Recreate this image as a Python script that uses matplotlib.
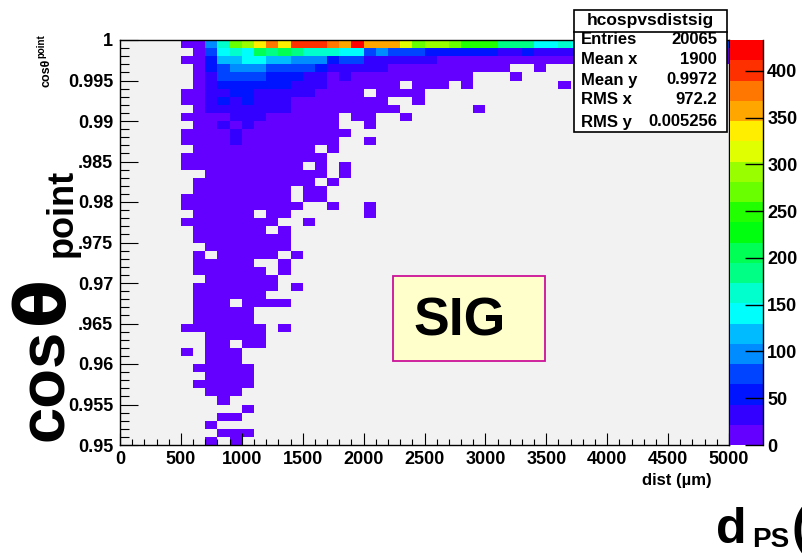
import numpy as np
import matplotlib
matplotlib.use("Agg")
import matplotlib.pyplot as plt
from matplotlib.colors import ListedColormap, Normalize
from matplotlib.patches import Rectangle
import colorsys

# ---------------- data ----------------
x_edges = np.arange(0, 5001, 100)          # dist (um), 50 bins
y_edges = np.linspace(0.95, 1.0, 51)       # cos(theta_point), 50 bins

# rows counted from the top (row 0 = 0.999..1.000): (row, first x-bin, counts)
cell_rows = [
    (0, 5, [8, 18, 98, 163, 270, 292, 336, 380, 336, 400, 405, 398, 378, 357, 433, 358, 360, 355,
            315, 270, 292, 290, 275, 250, 248, 245, 185, 183, 180, 140, 145, 160,
            150, 140, 135, 130, 120, 115, 110, 100, 95, 90, 85, 80, 75]),
    (1, 5, [0, 15, 75, 140, 160, 145, 205, 180, 210, 185, 165, 160, 165, 140, 145, 75, 95, 78,
            72, 70, 55, 50, 52, 48, 45, 46, 35, 32, 44, 30, 28, 25,
            25, 24, 22, 20, 20, 18, 17, 16, 15, 14, 12, 11, 10]),
    (2, 5, [12, 14, 50, 120, 115, 140, 135, 118, 112, 95, 100, 92, 50, 70, 72, 35, 40, 30,
            32, 28, 26, 18, 16, 17, 15, 14, 13, 12, 12, 11, 10, 10,
            9, 9, 8, 8, 7, 7, 6, 6, 5, 5, 5, 4, 4]),
    (3, 5, [0, 12, 48, 72, 95, 100, 92, 70, 75, 68, 66, 47, 30, 28, 26, 35, 25, 18,
            15, 14, 13, 12, 10, 9, 9, 8, 7, 0, 0, 4, 0, 0]),
    (4, 5, [0, 10, 30, 70, 72, 75, 70, 50, 48, 45, 30, 28, 18, 25, 17, 15, 14, 12,
            12, 10, 9, 8, 7, 6, 0, 0, 0, 3]),
    (5, 5, [0, 9, 28, 50, 52, 48, 46, 45, 44, 30, 28, 25, 18, 16, 14, 12, 10, 9,
            0, 8, 7, 6, 0, 4, 0, 0, 0, 0, 0, 0, 0, 2]),
    (6, 5, [6, 11, 27, 24, 46, 44, 35, 32, 30, 28, 25, 20, 18, 15, 13, 0, 9, 8, 7, 5]),
    (7, 5, [7, 10, 26, 44, 30, 45, 30, 28, 25, 20, 18, 16, 14, 12, 10, 8, 6, 0, 0, 3]),
    (8, 5, [0, 9, 25, 28, 30, 27, 26, 24, 23, 20, 17, 15, 13, 11, 9, 7, 5, 4,
            0, 0, 0, 0, 0, 0, 2]),
    (9, 5, [6, 8, 12, 18, 24, 26, 23, 20, 18, 15, 12, 9, 7, 0, 5, 4, 0, 0, 2]),
    (10, 5, [0, 8, 15, 23, 19, 24, 20, 18, 15, 12, 9, 6, 4, 0, 0, 3]),
    (11, 5, [5, 9, 14, 19, 23, 20, 19, 16, 13, 10, 8, 6, 4, 3]),
    (12, 5, [4, 8, 13, 18, 22, 20, 17, 15, 12, 9, 6, 4, 3, 0, 0, 2]),
    (13, 6, [7, 12, 16, 19, 18, 16, 13, 10, 7, 5, 0, 2]),
    (14, 5, [3, 7, 11, 15, 18, 17, 14, 12, 9, 6, 4, 2]),
    (15, 5, [3, 6, 10, 14, 17, 16, 13, 11, 8, 5, 0, 3, 0, 2]),
    (16, 7, [10, 13, 16, 15, 13, 10, 7, 5, 3, 2, 0, 1]),
    (17, 6, [5, 9, 13, 15, 14, 12, 9, 7, 4, 2, 0, 1]),
    (18, 6, [5, 9, 12, 14, 13, 11, 8, 6, 0, 3, 2]),
    (19, 5, [2, 5, 8, 12, 13, 12, 10, 8, 5, 0, 2, 1]),
    (20, 5, [2, 4, 8, 11, 12, 11, 9, 7, 4, 2, 0, 0, 1, 0, 0, 1]),
    (21, 6, [4, 7, 10, 11, 10, 0, 6, 3, 0, 0, 0, 0, 0, 0, 1]),
    (22, 5, [2, 4, 7, 10, 11, 9, 7, 4, 0, 0, 1]),
    (23, 6, [4, 7, 9, 10, 8, 6, 0, 2]),
    (24, 6, [3, 6, 9, 10, 8, 5, 3, 2]),
    (25, 7, [6, 8, 9, 8, 5, 3, 2]),
    (26, 6, [3, 0, 8, 9, 7, 5, 3, 0, 1]),
    (27, 6, [2, 5, 7, 8, 6, 0, 0, 1]),
    (28, 6, [2, 5, 7, 8, 6, 3, 0, 1]),
    (29, 7, [5, 6, 7, 5, 3, 2]),
    (30, 6, [2, 4, 6, 7, 5, 3, 2, 0, 1]),
    (31, 6, [2, 4, 6, 6, 4, 2]),
    (32, 6, [2, 4, 5, 0, 5, 3, 2, 1]),
    (33, 6, [2, 4, 5, 5, 3]),
    (34, 6, [1, 4, 5, 4, 3]),
    (35, 5, [1, 2, 3, 4, 4, 3, 1, 0, 1]),
    (36, 7, [3, 4, 4, 2, 1]),
    (37, 7, [3, 3, 0, 2, 1]),
    (38, 5, [1, 0, 2, 3, 2]),
    (39, 7, [2, 3, 2]),
    (40, 6, [1, 2, 3, 2, 1]),
    (41, 7, [2, 2, 2, 1]),
    (42, 6, [1, 2, 2, 2, 1]),
    (43, 7, [1, 2, 1]),
    (44, 8, [1]),
    (45, 10, [1]),
    (46, 8, [1, 1]),
    (47, 7, [1]),
    (48, 8, [1, 1, 1]),
    (49, 7, [1, 0, 1]),
]

z_ticks = [0, 50, 100, 150, 200, 250, 300, 350, 400]
x_ticks = [0, 500, 1000, 1500, 2000, 2500, 3000, 3500, 4000, 4500, 5000]
y_ticks = [0.95, 0.955, 0.96, 0.965, 0.97, 0.975, 0.98, 0.985, 0.99, 0.995, 1.0]
y_tick_labels = ["0.95", "0.955", "0.96", ".965", "0.97", ".975", "0.98", ".985", "0.99", "0.995", "1"]

stats_title = "hcospvsdistsig"
stats_names = ["Entries", "Mean x", "Mean y", "RMS x", "RMS y"]
stats_values = ["20065", "1900", "0.9972", "972.2", "0.005256"]

# ---------------- style ----------------
plt.rcParams["font.family"] = ["Liberation Sans", "DejaVu Sans"]
plt.rcParams["font.weight"] = "bold"

W, H = 802, 557
fig = plt.figure(figsize=(W / 100, H / 100), dpi=100)
fig.patch.set_facecolor("white")

def fx(px):
    return px / W

def fy(py):
    return 1 - py / H

# histogram grid
grid = np.zeros((len(y_edges) - 1, len(x_edges) - 1))
for r, c0, vals in cell_rows:
    grid[49 - r, c0:c0 + len(vals)] = vals
zmax = grid.max()
masked = np.ma.masked_where(grid <= 0, grid)

# ROOT "pretty" palette, 20 contour levels
ncont = 20
colors = []
for j in range(ncont):
    i = int((j + 0.99) * 50 / ncont)
    hue = 280 - (i + 1) * 280 / 50
    colors.append(colorsys.hls_to_rgb(hue / 360.0, 0.5, 1.0))
cmap = ListedColormap(colors)
norm = Normalize(vmin=0, vmax=zmax)

L, R, T, B = 120, 729, 40, 445
ax = fig.add_axes([fx(L), fy(B), (R - L) / W, (B - T) / H])
ax.set_facecolor("#f2f2f2")
mesh = ax.pcolormesh(x_edges, y_edges, masked, cmap=cmap, norm=norm,
                     edgecolors="none", antialiased=False)
ax.set_xlim(0, 5000)
ax.set_ylim(0.95, 1.0)
ax.set_xticks(x_ticks)
ax.set_xticks(np.arange(0, 5001, 100), minor=True)
ax.set_yticks(y_ticks)
ax.set_yticks(np.linspace(0.95, 1.0, 51), minor=True)
ax.set_yticklabels(y_tick_labels)
ax.tick_params(axis="x", which="major", direction="in", length=8.6, width=0.8,
               labelsize=13, pad=4, top=False)
ax.tick_params(axis="x", which="minor", direction="in", length=4.3, width=0.8, top=False)
ax.tick_params(axis="y", which="major", direction="in", length=13, width=0.8,
               labelsize=13, pad=5, right=False)
ax.tick_params(axis="y", which="minor", direction="in", length=6.5, width=0.8, right=False)
for s in ax.spines.values():
    s.set_linewidth(1.0)
    s.set_color("black")

# colour bar
cax = fig.add_axes([fx(730), fy(B), 33 / W, (B - T) / H])
cb = fig.colorbar(mesh, cax=cax, ticks=z_ticks)
cb.outline.set_visible(False)
cax.tick_params(direction="in", length=13, width=1.0, labelsize=13, pad=3,
                right=True, left=False)
cax.plot([1, 1], [0, 1], transform=cax.transAxes, color="black", lw=1.0, clip_on=False)

# axis titles
fig.text(fx(712), fy(480), "dist (\u00b5m)", ha="right", va="center", fontsize=12)
fig.text(fx(47), fy(87), "cos\u03b8", rotation=90, ha="center", va="bottom", fontsize=9)
fig.text(fx(41), fy(58), "point", rotation=90, ha="center", va="bottom", fontsize=7)
fig.text(fx(63), fy(441), "cos", rotation=90, rotation_mode="anchor", ha="left",
         va="baseline", fontsize=47)
fig.text(fx(63), fy(324), "\u03b8", rotation=90, rotation_mode="anchor", ha="left",
         va="baseline", fontsize=50, family="DejaVu Sans")
fig.text(fx(62), fy(257), "point", rotation=90, ha="center", va="bottom", fontsize=26)

# big x label at bottom right (clipped by figure edge, as in the original)
fig.text(fx(716), fy(530), "d", ha="left", va="center", fontsize=36)
fig.text(fx(752), fy(540), "PS", ha="left", va="center", fontsize=20)
fig.text(fx(791), fy(530), "(", ha="left", va="center", fontsize=36)

# SIG box
fig.add_artist(Rectangle((fx(393), fy(361)), 152 / W, 85 / H, transform=fig.transFigure,
                         facecolor="#ffffcc", edgecolor="#cc1199", lw=1.3))
fig.text(fx(413), fy(321), "SIG", ha="left", va="center", fontsize=38.5)

# stats box
bx0, bx1, by0, by1, byt = 574, 727, 10, 132, 32
fig.add_artist(Rectangle((fx(bx0), fy(by1)), (bx1 - bx0) / W, (by1 - by0) / H,
                         transform=fig.transFigure, facecolor="white", edgecolor="black", lw=1.2))
fig.add_artist(plt.Line2D([fx(bx0), fx(bx1)], [fy(byt), fy(byt)], transform=fig.transFigure,
                          color="black", lw=1.2))
fig.text(fx((bx0 + bx1) / 2), fy(20), stats_title, ha="center", va="center", fontsize=12.5)
row_y = [39, 60, 80, 100, 122]
for name, val, yy in zip(stats_names, stats_values, row_y):
    fig.text(fx(581), fy(yy), name, ha="left", va="center", fontsize=12)
    fig.text(fx(717), fy(yy), val, ha="right", va="center", fontsize=12)

fig.savefig("out.png", dpi=100)
